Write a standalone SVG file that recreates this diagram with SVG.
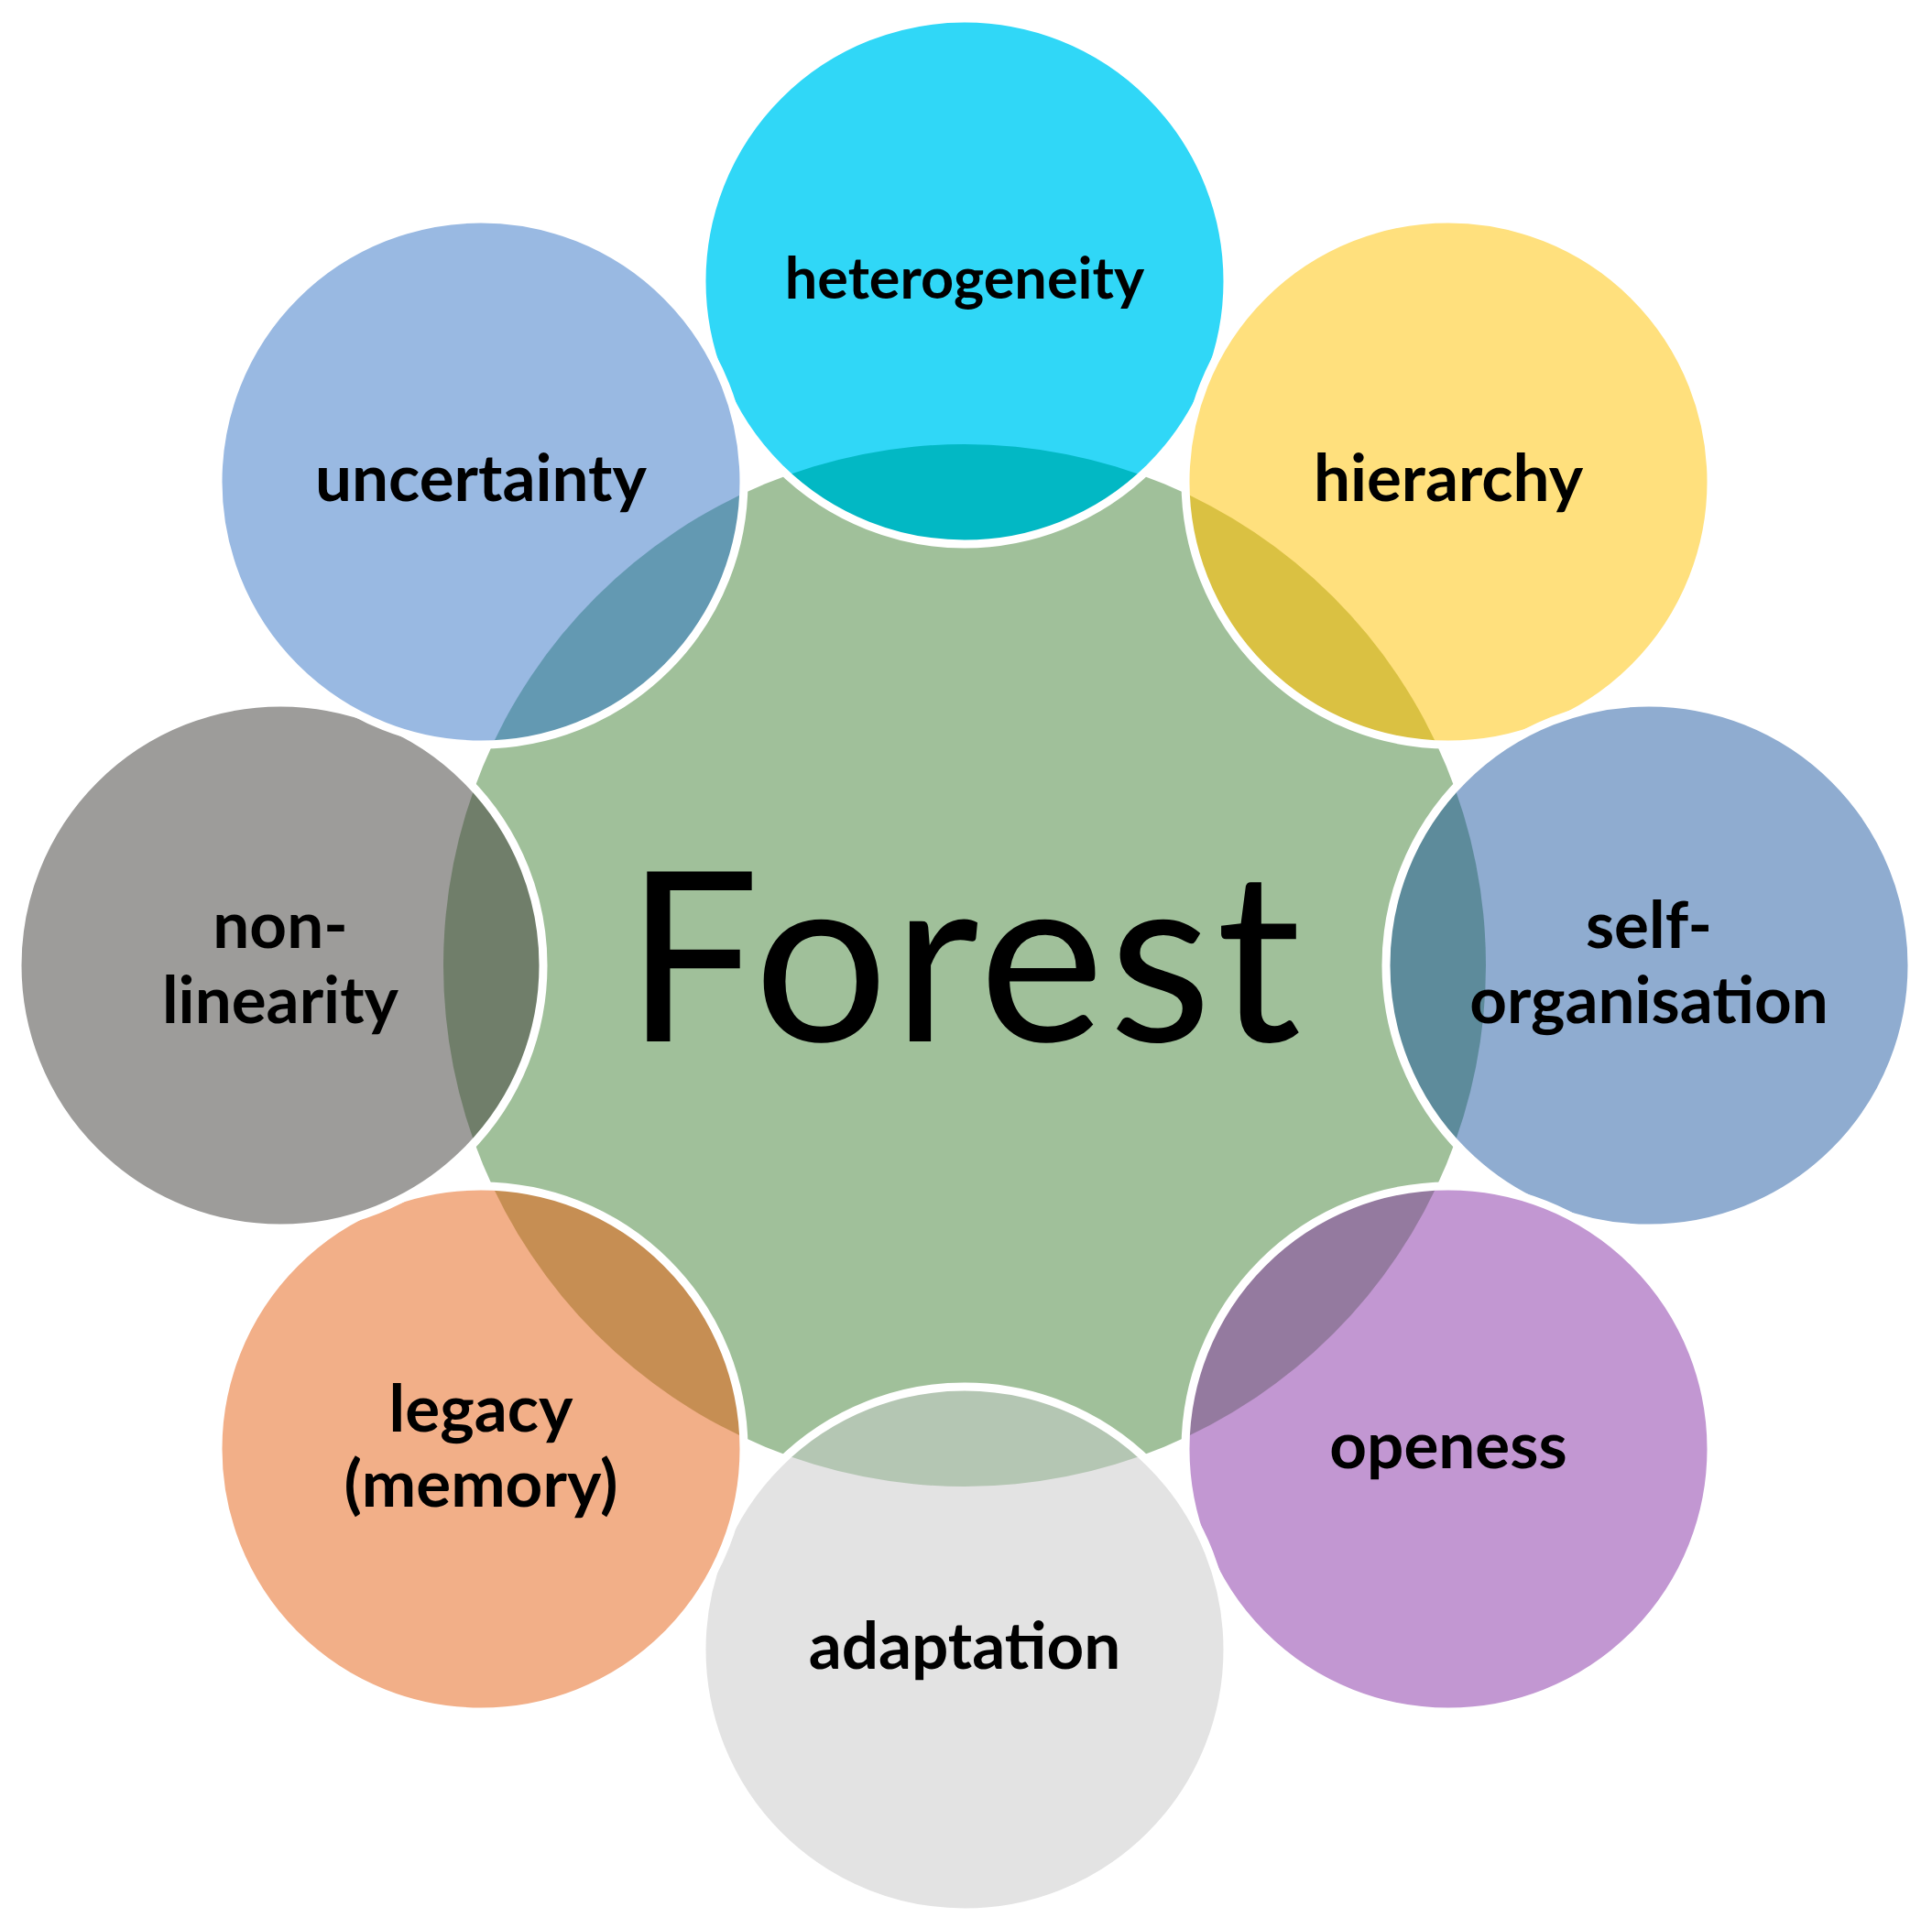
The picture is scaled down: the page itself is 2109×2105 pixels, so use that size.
<svg xmlns="http://www.w3.org/2000/svg" width="2109" height="2105" viewBox="0 0 2109 2105">
<style>
.ring{fill:none;stroke:#FFFFFF;stroke-width:9}
.lbl{font-family:Lato,"Liberation Sans",sans-serif;font-weight:700;font-size:71px;fill:#000000;text-anchor:middle}
.title{font-family:Lato,"Liberation Sans",sans-serif;font-weight:400;font-size:259px;letter-spacing:5px;fill:#000000;text-anchor:middle}
</style>
<defs>
<clipPath id="cg"><circle cx="1053" cy="1054" r="569"/></clipPath>
</defs>
<rect width="2109" height="2105" fill="#FFFFFF"/>
<g id="forest">
<circle cx="1053" cy="1054" r="569" fill="#A0C09A"/>
</g>
<g id="connectors"></g>
<g id="n-heterogeneity">
<circle cx="1053" cy="307" r="287" fill="#30D7F7"/>
<circle cx="1053" cy="307" r="287" fill="#02B8C4" clip-path="url(#cg)"/>
<circle class="ring" cx="1053" cy="307" r="287"/>
<text class="lbl" x="1053" y="326" style="font-size:63px">heterogeneity</text>
</g>
<g id="n-hierarchy">
<circle cx="1581" cy="526" r="287" fill="#FFE07D"/>
<circle cx="1581" cy="526" r="287" fill="#DAC142" clip-path="url(#cg)"/>
<circle class="ring" cx="1581" cy="526" r="287"/>
<text class="lbl" x="1581" y="547">hierarchy</text>
</g>
<g id="n-self-organisation">
<circle cx="1800" cy="1054" r="287" fill="#8FACD0"/>
<circle cx="1800" cy="1054" r="287" fill="#5D8B9B" clip-path="url(#cg)"/>
<circle class="ring" cx="1800" cy="1054" r="287"/>
<text class="lbl" x="1800" y="1035">self-</text>
<text class="lbl" x="1800" y="1117">organisation</text>
</g>
<g id="n-openess">
<circle cx="1581" cy="1582" r="287" fill="#C297D2"/>
<circle cx="1581" cy="1582" r="287" fill="#947A9F" clip-path="url(#cg)"/>
<circle class="ring" cx="1581" cy="1582" r="287"/>
<text class="lbl" x="1581" y="1603">openess</text>
</g>
<g id="n-adaptation">
<circle cx="1053" cy="1801" r="287" fill="#E3E3E3"/>
<circle cx="1053" cy="1801" r="287" fill="#B4C6B3" clip-path="url(#cg)"/>
<circle class="ring" cx="1053" cy="1801" r="287"/>
<text class="lbl" x="1053" y="1822">adaptation</text>
</g>
<g id="n-legacy">
<circle cx="525" cy="1582" r="287" fill="#F2AF88"/>
<circle cx="525" cy="1582" r="287" fill="#C68E53" clip-path="url(#cg)"/>
<circle class="ring" cx="525" cy="1582" r="287"/>
<text class="lbl" x="525" y="1563">legacy</text>
<text class="lbl" x="525" y="1645">(memory)</text>
</g>
<g id="n-non-linearity">
<circle cx="306" cy="1054" r="287" fill="#9D9C9A"/>
<circle cx="306" cy="1054" r="287" fill="#707E6A" clip-path="url(#cg)"/>
<circle class="ring" cx="306" cy="1054" r="287"/>
<text class="lbl" x="306" y="1035">non-</text>
<text class="lbl" x="306" y="1117">linearity</text>
</g>
<g id="n-uncertainty">
<circle cx="525" cy="526" r="287" fill="#99B9E2"/>
<circle cx="525" cy="526" r="287" fill="#6399B2" clip-path="url(#cg)"/>
<circle class="ring" cx="525" cy="526" r="287"/>
<text class="lbl" x="525" y="547">uncertainty</text>
</g>
<g id="title">
<text class="title" x="1054" y="1137">Forest</text>
</g>
</svg>
